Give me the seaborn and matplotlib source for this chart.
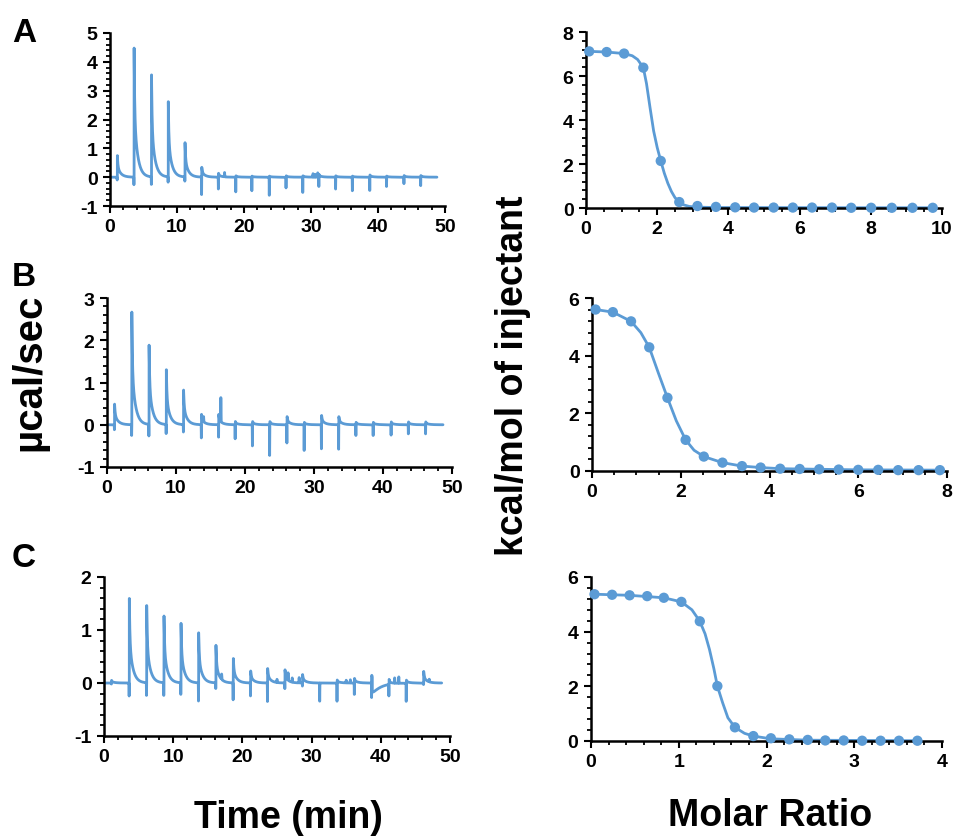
import numpy as np
import matplotlib
matplotlib.use("Agg")
import matplotlib.pyplot as plt
from matplotlib.ticker import MultipleLocator
import seaborn as sns

# raw thermograms (left column): injection times, peak tops and dip bottoms
inj_a = [1.1, 3.6, 6.2, 8.7, 11.2, 13.7, 16.2, 18.8, 21.2, 23.8, 26.3, 28.8, 31.2, 33.7, 36.2, 38.8, 41.3, 43.9, 46.4]
peak_a = [0.75, 4.48, 3.54, 2.61, 1.19, 0.35, 0.14, 0.05, 0.04, 0.04, 0.05, 0.05, 0.10, 0.05, 0.04, 0.08, 0.04, 0.06, 0.06]
dip_a = [-0.10, -0.27, -0.27, -0.19, -0.15, -0.62, -0.42, -0.52, -0.48, -0.64, -0.38, -0.54, -0.33, -0.42, -0.48, -0.47, -0.33, -0.23, -0.30]
extra_a = [(17.1, 0.15), (30.3, 0.12), (30.6, 0.10), (31.0, 0.15)]
end_a = 48.8

inj_b = [1.1, 3.6, 6.1, 8.6, 11.1, 13.7, 16.2, 18.6, 21.1, 23.6, 26.1, 28.6, 31.1, 33.6, 36.1, 38.6, 41.2, 43.7, 46.2]
peak_b = [0.49, 2.67, 1.88, 1.30, 0.82, 0.25, 0.25, 0.08, 0.08, 0.08, 0.20, 0.06, 0.23, 0.20, 0.06, 0.06, 0.07, 0.07, 0.07]
dip_b = [-0.12, -0.26, -0.28, -0.22, -0.18, -0.32, -0.30, -0.34, -0.51, -0.74, -0.44, -0.62, -0.58, -0.59, -0.26, -0.26, -0.25, -0.22, -0.22]
extra_b = [(16.5, 0.57), (14.0, 0.12)]
end_b = 48.7

inj_c = [1.1, 3.66, 6.17, 8.67, 11.13, 13.68, 16.18, 18.69, 21.2, 23.65, 26.16, 28.7, 31.2, 33.7, 36.2, 38.7, 41.2, 43.7, 46.2]
peak_c = [0.05, 1.60, 1.48, 1.28, 1.14, 0.95, 0.71, 0.47, 0.23, 0.28, 0.25, 0.16, 0.0, 0.06, 0.09, 0.15, 0.10, 0.06, 0.22]
dip_c = [-0.02, -0.25, -0.24, -0.24, -0.22, -0.35, -0.11, -0.32, -0.25, -0.35, -0.11, -0.06, -0.35, -0.35, -0.22, -0.28, -0.22, -0.35, -0.03]
extra_c = [(17.0, 0.10), (25.0, 0.06), (26.6, 0.14), (27.2, 0.08), (28.2, 0.10), (35.0, 0.05), (35.6, 0.06), (42.0, 0.10), (42.6, 0.12), (47.0, 0.05)]
drift_c = (38.75, -0.26, 1.1)
end_c = 48.8

# binding isotherms (right column): data points and fitted curve
ratio_a = [0.09, 0.58, 1.07, 1.61, 2.10, 2.62, 3.13, 3.65, 4.19, 4.72, 5.27, 5.81, 6.35, 6.91, 7.45, 8.01, 8.59, 9.17, 9.74]
heat_a = [7.12, 7.09, 7.02, 6.38, 2.14, 0.27, 0.09, 0.05, 0.03, 0.02, 0.02, 0.02, 0.02, 0.02, 0.01, 0.01, 0.01, 0.01, 0.01]
fit_x_a = [0.09, 0.58, 1.07, 1.30, 1.45, 1.61, 1.70, 1.80, 1.90, 2.00, 2.10, 2.20, 2.30, 2.40, 2.50, 2.62, 2.75, 2.90, 3.13, 3.65, 9.74]
fit_y_a = [7.12, 7.09, 7.02, 6.92, 6.75, 6.38, 5.65, 4.55, 3.50, 2.75, 2.14, 1.58, 1.12, 0.75, 0.47, 0.27, 0.14, 0.07, 0.04, 0.02, 0.01]

ratio_b = [0.08, 0.47, 0.88, 1.29, 1.70, 2.11, 2.52, 2.94, 3.38, 3.80, 4.24, 4.68, 5.12, 5.56, 6.00, 6.45, 6.90, 7.36, 7.84]
heat_b = [5.60, 5.51, 5.19, 4.29, 2.54, 1.08, 0.50, 0.29, 0.17, 0.12, 0.08, 0.07, 0.06, 0.05, 0.04, 0.04, 0.03, 0.03, 0.03]
fit_x_b = [0.08, 0.47, 0.88, 1.10, 1.29, 1.50, 1.70, 1.90, 2.11, 2.30, 2.52, 2.94, 3.38, 3.80, 4.24, 5.12, 6.00, 7.84]
fit_y_b = [5.60, 5.51, 5.19, 4.80, 4.29, 3.38, 2.54, 1.74, 1.08, 0.72, 0.50, 0.29, 0.17, 0.12, 0.08, 0.06, 0.04, 0.03]

ratio_c = [0.04, 0.24, 0.44, 0.64, 0.83, 1.03, 1.24, 1.44, 1.64, 1.85, 2.05, 2.26, 2.47, 2.67, 2.88, 3.09, 3.30, 3.51, 3.72]
heat_c = [5.37, 5.35, 5.33, 5.30, 5.24, 5.09, 4.38, 2.01, 0.50, 0.18, 0.10, 0.06, 0.04, 0.02, 0.02, 0.01, 0.01, 0.01, 0.01]
fit_x_c = [0.04, 0.44, 0.83, 1.03, 1.15, 1.24, 1.30, 1.35, 1.40, 1.44, 1.50, 1.56, 1.64, 1.75, 1.85, 2.05, 2.47, 3.72]
fit_y_c = [5.37, 5.33, 5.24, 5.09, 4.80, 4.38, 3.92, 3.35, 2.65, 2.01, 1.40, 0.85, 0.50, 0.28, 0.18, 0.08, 0.03, 0.01]

blue = "#5B9BD5"

sns.set_style("ticks")
plt.rcParams["font.family"] = ["Liberation Sans", "DejaVu Sans"]
plt.rcParams["font.weight"] = "bold"
plt.rcParams["axes.unicode_minus"] = False
plt.rcParams["text.color"] = "black"
plt.rcParams["xtick.color"] = "black"
plt.rcParams["ytick.color"] = "black"
plt.rcParams["axes.labelcolor"] = "black"


def thermogram(inj, peak, dip, extra, end, drift=None):
    t = np.arange(0, end, 0.004)
    y = np.zeros_like(t)
    for ti, pk, dp in zip(inj, peak, dip):
        m = t >= ti
        dt = t[m] - ti
        y[m] += pk * (0.5 * np.exp(-dt / 0.08) + 0.5 * np.exp(-dt / 0.5))
        y += dp * np.exp(-((t - ti + 0.03) / 0.015) ** 2)
    for ti, pk in extra:
        y += pk * np.exp(-((t - ti) / 0.03) ** 2)
    if drift is not None:
        t0, depth, tau = drift
        m = t >= t0
        y[m] += depth * np.exp(-(t[m] - t0) / tau)
    return t, y


W, H = 956, 837
fig = plt.figure(figsize=(W / 100, H / 100), dpi=100)


def add_axes(x0, x1, ytop, ybot):
    return fig.add_axes([x0 / W, 1 - ybot / H, (x1 - x0) / W, (ybot - ytop) / H])


def style(ax, xmaj, xmin, ymaj, ymin):
    ax.xaxis.set_major_locator(MultipleLocator(xmaj))
    ax.xaxis.set_minor_locator(MultipleLocator(xmin))
    ax.yaxis.set_major_locator(MultipleLocator(ymaj))
    ax.yaxis.set_minor_locator(MultipleLocator(ymin))
    ax.tick_params(which="major", length=5, width=1.5, labelsize=14, pad=4, colors="black")
    ax.tick_params(which="minor", length=3, width=1.3, colors="black")
    for s in ("left", "bottom"):
        ax.spines[s].set_linewidth(1.8)
        ax.spines[s].set_color("black")
    for lab in ax.get_xticklabels() + ax.get_yticklabels():
        lab.set_fontweight("bold")
    ax.set_xlabel("")
    ax.set_ylabel("")
    sns.despine(ax=ax)


left_specs = [
    ((110, 445, 34, 207), (inj_a, peak_a, dip_a, extra_a, end_a, None), (-1, 5)),
    ((107, 452, 299, 468), (inj_b, peak_b, dip_b, extra_b, end_b, None), (-1, 3)),
    ((104, 450, 578, 737), (inj_c, peak_c, dip_c, extra_c, end_c, drift_c), (-1, 2)),
]
for box, args, ylim in left_specs:
    ax = add_axes(*box)
    t, y = thermogram(*args)
    sns.lineplot(x=t, y=y, ax=ax, color=blue, linewidth=2.0, estimator=None, sort=False)
    ax.set_xlim(0, 50)
    ax.set_ylim(*ylim)
    style(ax, 10, 2, 1, 0.2)

right_specs = [
    ((586, 942, 33, 209), ratio_a, heat_a, fit_x_a, fit_y_a, (0, 10), (0, 8), 2, 0.5),
    ((592, 947, 299, 472), ratio_b, heat_b, fit_x_b, fit_y_b, (0, 8), (0, 6), 2, 0.5),
    ((591, 942, 578, 742), ratio_c, heat_c, fit_x_c, fit_y_c, (0, 4), (0, 6), 1, 0.2),
]
for box, rx, hy, fx, fy, xlim, ylim, xmaj, xmin in right_specs:
    ax = add_axes(*box)
    sns.lineplot(x=fx, y=fy, ax=ax, color=blue, linewidth=2.0, estimator=None, sort=False)
    sns.scatterplot(x=rx, y=hy, ax=ax, color=blue, s=55, edgecolor="none", zorder=3, clip_on=False)
    ax.set_xlim(*xlim)
    ax.set_ylim(*ylim)
    style(ax, xmaj, xmin, 2, 0.4)

for letter, ytop in (("A", 18), ("B", 262), ("C", 543)):
    fig.text(12 / W, 1 - ytop / H, letter, fontsize=24, fontweight="bold", va="top", ha="left",
             color="black")

fig.text(29 / W, 1 - 372 / H, "\u00b5cal/sec", fontsize=29, fontweight="bold",
         rotation=90, va="center", ha="center", color="black")
fig.text(513 / W, 1 - 376 / H, "kcal/mol of injectant", fontsize=27, fontweight="bold",
         rotation=90, va="center", ha="center", color="black")
fig.text(288 / W, 1 - 828 / H, "Time (min)", fontsize=27, fontweight="bold",
         va="baseline", ha="center", color="black")
fig.text(770 / W, 1 - 826 / H, "Molar Ratio", fontsize=27, fontweight="bold",
         va="baseline", ha="center", color="black")

fig.savefig("out.png", dpi=100)
